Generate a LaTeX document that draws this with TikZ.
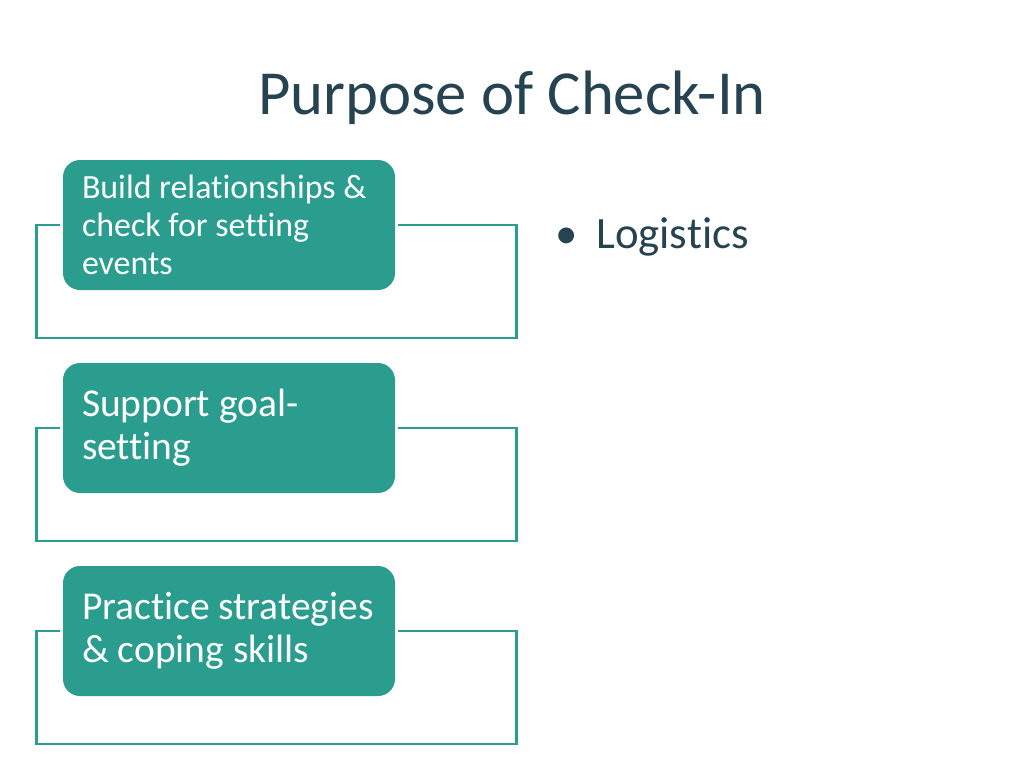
\documentclass[tikz,border=0pt]{standalone}
\usepackage{fontspec}
\setmainfont{Carlito}[Ligatures=NoCommon]
\usetikzlibrary{positioning}

\definecolor{boxgreen}{RGB}{42,157,143}
\definecolor{slate}{RGB}{37,67,80}

\tikzstyle{heading} = [text=slate, font=\fontsize{62.7}{74}\selectfont, anchor=base]
\tikzstyle{item} = [rectangle, rounded corners=17pt, fill=boxgreen, text=white, minimum width=332pt, minimum height=130pt, inner xsep=19pt, inner ysep=0pt, text width=294pt, align=flush left]
\tikzstyle{frame} = [draw=boxgreen, line width=2.7pt]
\tikzstyle{bullet} = [text=slate, font=\fontsize{44.8}{52}\selectfont, anchor=base west, inner sep=0pt]

\begin{document}
\begin{tikzpicture}[x=1pt,y=-1pt]
  \def\gap{3pt}
  \def\fw{121pt}
  \def\fh{113}
  \def\fl{23}
  \def\ystep{203pt}

  \useasboundingbox[fill=white] (0,0) rectangle (1024,768);

  \node [heading] (title) at (512,114) {Purpose of Check-In};

  \node [item, font=\fontsize{33.9}{38}\selectfont] (build) at (229,225) {Build relationships \&\\check for setting\\events};
  \node [item, font=\fontsize{39.5}{43}\selectfont, below of=build, node distance=\ystep] (goal) {Support goal-\\setting};
  \node [item, font=\fontsize{39.5}{43}\selectfont, below of=goal, node distance=\ystep] (practice) {Practice strategies\\\& coping skills};

  \node [bullet] (logistics) at (555,248) {\makebox[41pt][l]{\textbullet}Logistics};

  \draw [frame] ([xshift=-\gap]build.west) -| ++(-\fl,\fh) -| ([xshift=\fw]build.east) -- ([xshift=\gap]build.east);
  \draw [frame] ([xshift=-\gap]goal.west) -| ++(-\fl,\fh) -| ([xshift=\fw]goal.east) -- ([xshift=\gap]goal.east);
  \draw [frame] ([xshift=-\gap]practice.west) -| ++(-\fl,\fh) -| ([xshift=\fw]practice.east) -- ([xshift=\gap]practice.east);
\end{tikzpicture}
\end{document}
